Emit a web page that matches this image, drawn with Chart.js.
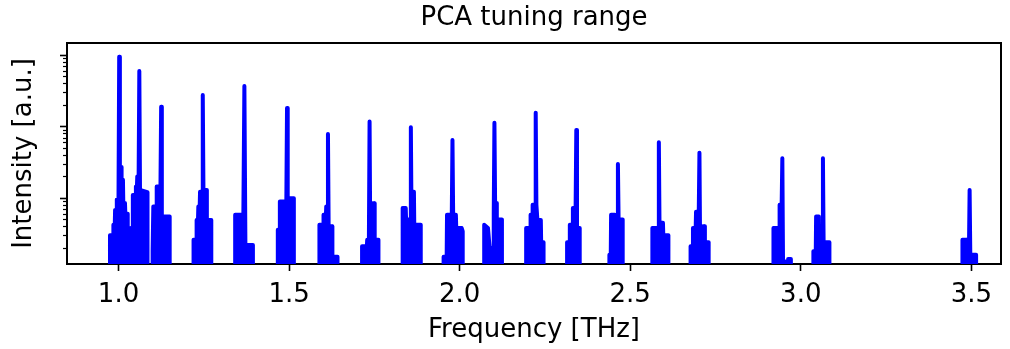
<!DOCTYPE html>
<html lang="en">
<head>
<meta charset="UTF-8">
<title>PCA tuning range</title>
<script src="https://cdn.jsdelivr.net/npm/chart.js"></script>
<style>
  html, body { margin: 0; padding: 0; background: #fff; }
  #wrap { width: 1010px; height: 349px; position: relative; }
</style>
</head>
<body>
<div id="wrap"><canvas id="myChart"></canvas></div>
<script>
// spectrum, one comb line per row (0.03 = below the axis)
const freqTHz = [
  0.975, 0.975, 0.984, 0.985, 0.989, 0.990, 0.994, 0.995, 1.000, 1.002, 1.004, 1.008, 1.009, 1.013, 1.014, 1.019, 1.020, 1.027, 1.027,
  1.036, 1.036, 1.041, 1.042, 1.050, 1.051, 1.054, 1.055, 1.059, 1.061, 1.063, 1.084, 1.085,
  1.099, 1.099, 1.101, 1.102, 1.111, 1.112, 1.123, 1.125, 1.127, 1.150, 1.150,
  1.220, 1.220, 1.228, 1.229, 1.233, 1.234, 1.238, 1.239, 1.245, 1.247, 1.249, 1.258, 1.259, 1.272, 1.272,
  1.342, 1.342, 1.366, 1.369, 1.372, 1.394, 1.394,
  1.467, 1.467, 1.472, 1.473, 1.492, 1.494, 1.496, 1.514, 1.514,
  1.589, 1.589, 1.600, 1.601, 1.608, 1.609, 1.612, 1.614, 1.616, 1.626, 1.627, 1.642, 1.642,
  1.714, 1.714, 1.728, 1.729, 1.734, 1.736, 1.738, 1.744, 1.745, 1.750, 1.751, 1.762, 1.762,
  1.833, 1.833, 1.842, 1.843, 1.855, 1.857, 1.859, 1.863, 1.866, 1.867, 1.886, 1.886,
  1.953, 1.953, 1.962, 1.963, 1.977, 1.979, 1.981, 1.989, 1.990, 2.006, 2.009, 2.009,
  2.072, 2.072, 2.083, 2.088, 2.098, 2.100, 2.102, 2.104, 2.108, 2.109, 2.124, 2.124,
  2.195, 2.195, 2.207, 2.208, 2.213, 2.214, 2.221, 2.223, 2.225, 2.228, 2.238, 2.239, 2.246, 2.246,
  2.315, 2.315, 2.322, 2.323, 2.331, 2.332, 2.340, 2.342, 2.344, 2.352, 2.352,
  2.439, 2.439, 2.443, 2.444, 2.455, 2.456, 2.462, 2.464, 2.466, 2.478, 2.478,
  2.565, 2.565, 2.582, 2.584, 2.586, 2.593, 2.596, 2.597, 2.612, 2.612,
  2.677, 2.677, 2.683, 2.684, 2.692, 2.693, 2.701, 2.703, 2.705, 2.712, 2.713, 2.718, 2.719, 2.730, 2.730,
  2.920, 2.920, 2.937, 2.938, 2.944, 2.946, 2.948, 2.953, 2.953, 2.963, 2.963, 2.971, 2.971,
  3.037, 3.037, 3.044, 3.045, 3.053, 3.054, 3.063, 3.065, 3.067, 3.084, 3.084,
  3.474, 3.474, 3.485, 3.486, 3.493, 3.495, 3.497, 3.514, 3.514
];
const intensity = [
  0.03, 0.30, 0.30, 0.42, 0.42, 0.68, 0.68, 0.95, 1.0, 94.6, 2.7, 2.7, 1.8, 1.8, 0.85, 0.85, 0.60, 0.60, 0.03,
  0.03, 0.38, 0.38, 1.10, 1.10, 1.44, 1.44, 2.0, 2.0, 59.7, 1.3, 1.2, 0.03,
  0.03, 0.18, 0.18, 0.76, 0.76, 1.44, 1.44, 18.9, 0.55, 0.55, 0.03,
  0.03, 0.26, 0.26, 0.49, 0.49, 0.76, 0.76, 1.22, 1.22, 27.6, 1.29, 1.29, 0.49, 0.49, 0.03,
  0.03, 0.58, 0.58, 36.9, 0.22, 0.22, 0.03,
  0.03, 0.36, 0.36, 0.89, 0.89, 18.1, 0.99, 0.99, 0.03,
  0.03, 0.42, 0.42, 0.58, 0.58, 0.76, 0.76, 7.85, 0.40, 0.40, 0.15, 0.15, 0.03,
  0.03, 0.21, 0.21, 0.26, 0.26, 11.7, 0.26, 0.26, 0.84, 0.84, 0.26, 0.26, 0.03,
  0.03, 0.72, 0.72, 0.50, 0.50, 9.75, 0.50, 1.22, 1.22, 0.42, 0.42, 0.03,
  0.03, 0.15, 0.15, 0.58, 0.58, 6.47, 0.58, 0.58, 0.38, 0.38, 0.34, 0.03,
  0.03, 0.42, 0.38, 0.20, 0.20, 0.60, 11.3, 0.85, 0.85, 0.50, 0.50, 0.03,
  0.03, 0.38, 0.38, 0.58, 0.58, 0.80, 0.80, 15.6, 0.80, 0.49, 0.49, 0.24, 0.24, 0.03,
  0.03, 0.24, 0.24, 0.42, 0.42, 0.72, 0.72, 8.93, 0.38, 0.38, 0.03,
  0.03, 0.16, 0.16, 0.58, 0.58, 0.30, 0.30, 2.99, 0.50, 0.50, 0.03,
  0.03, 0.38, 0.38, 6.01, 0.38, 0.45, 0.45, 0.30, 0.30, 0.03,
  0.03, 0.21, 0.21, 0.38, 0.38, 0.64, 0.64, 4.30, 0.19, 0.19, 0.40, 0.40, 0.24, 0.24, 0.03,
  0.03, 0.38, 0.38, 0.80, 0.80, 3.59, 0.13, 0.13, 0.03, 0.03, 0.14, 0.14, 0.03,
  0.03, 0.18, 0.18, 0.55, 0.55, 0.18, 0.18, 3.59, 0.24, 0.24, 0.03,
  0.03, 0.26, 0.26, 0.18, 0.18, 1.29, 0.16, 0.16, 0.03
];
const xTickValues = [1.0, 1.5, 2.0, 2.5, 3.0, 3.5];
const yTickValues = [0.2, 0.3, 0.4, 0.5, 0.6, 0.7, 0.8, 0.9, 1, 2, 3, 4, 5, 6, 7, 8, 9, 10, 20, 30, 40, 50, 60, 70, 80, 90, 100];
const xRange = [0.849, 3.587];
const yRange = [0.119, 147];

const font = { family: 'DejaVu Sans', size: 26, weight: 'normal', lineHeight: 1.2 };

// log-axis tick marks: long at decades, short in between
const yTickMarks = {
    id: 'yTickMarks',
    afterDraw(chart) {
        const s = chart.scales.y;
        const ctx = chart.ctx;
        ctx.save();
        ctx.strokeStyle = '#000';
        yTickValues.forEach(v => {
            const lg = Math.log10(v);
            const major = Math.abs(lg - Math.round(lg)) < 1e-9;
            const py = Math.round(s.getPixelForValue(v)) + 0.5;
            ctx.lineWidth = major ? 1.6 : 1.2;
            ctx.beginPath();
            ctx.moveTo(s.right - (major ? 7 : 4), py);
            ctx.lineTo(s.right, py);
            ctx.stroke();
        });
        ctx.restore();
    }
};

const points = freqTHz.map((f, i) => ({ x: f, y: intensity[i] }));

new Chart(document.getElementById('myChart'), {
    type: 'line',
    data: {
        datasets: [{
            data: points,
            borderColor: '#0000ff',
            backgroundColor: '#0000ff',
            borderWidth: 4,
            borderJoinStyle: 'round',
            borderCapStyle: 'round',
            fill: 'start',
            tension: 0,
            pointRadius: 0,
            clip: 0
        }]
    },
    options: {
        responsive: true,
        maintainAspectRatio: false,
        animation: false,
        devicePixelRatio: 1,
        layout: { padding: { left: 0, right: 9, top: 0, bottom: 0 } },
        plugins: { legend: { display: false }, tooltip: { enabled: false }, title: { display: false } },
        scales: {
            x: {
                type: 'linear', position: 'bottom', min: xRange[0], max: xRange[1],
                afterBuildTicks: s => { s.ticks = xTickValues.map(v => ({ value: v })); },
                ticks: { font, color: '#000', padding: 9, maxRotation: 0, callback: v => v.toFixed(1) },
                grid: { display: true, drawOnChartArea: false, drawTicks: true, tickLength: 7, tickWidth: 1.6, tickColor: '#000' },
                border: { display: true, color: '#000', width: 2 },
                title: { display: true, text: 'Frequency [THz]', font, color: '#000', padding: { top: 0, bottom: 3 } },
                afterFit: s => { s.height = 85; }
            },
            x2: {
                type: 'linear', position: 'top', min: xRange[0], max: xRange[1],
                ticks: { display: false },
                grid: { display: false },
                border: { display: true, color: '#000', width: 2 },
                title: { display: true, text: 'PCA tuning range', font, color: '#000', padding: { top: 3, bottom: 0 } },
                afterFit: s => { s.height = 43; }
            },
            y: {
                type: 'logarithmic', position: 'left', min: yRange[0], max: yRange[1],
                ticks: { display: false },
                grid: { display: false },
                border: { display: true, color: '#000', width: 2 },
                title: { display: true, text: 'Intensity [a.u.]', font, color: '#000', padding: { top: 9, bottom: 0 } },
                afterFit: s => { s.width = 67; }
            },
            y2: {
                type: 'logarithmic', position: 'right', min: yRange[0], max: yRange[1],
                ticks: { display: false },
                grid: { display: false },
                border: { display: true, color: '#000', width: 2 },
                afterFit: s => { s.width = 0; }
            }
        }
    },
    plugins: [yTickMarks]
});
</script>
</body>
</html>
